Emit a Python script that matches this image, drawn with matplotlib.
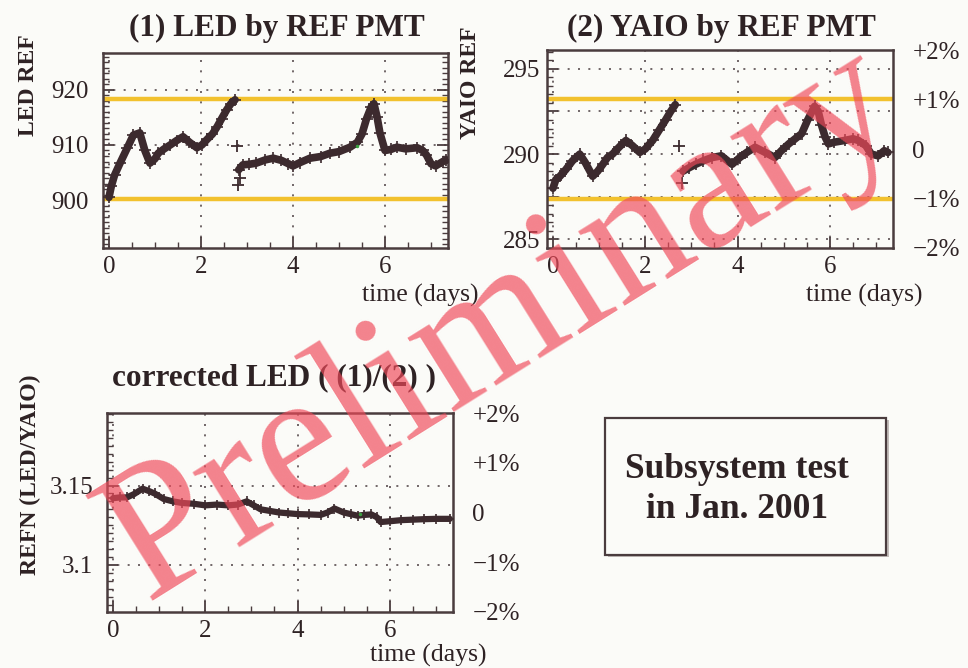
import matplotlib.pyplot as plt
from matplotlib.patches import Rectangle
from matplotlib.ticker import MultipleLocator, FuncFormatter

plt.rcParams['font.family'] = ['Liberation Serif', 'DejaVu Serif']

INK = '#3c2a2e'
FRAME = '#4a3c3e'
TXT = '#2e2224'
GOLD = '#f2c12e'
GRID = '#5a4e50'
BG = '#fbfbf8'
W, H = 968, 668

# (1) LED seen by the reference PMT, two runs split by a short gap
led_t_a = [0.0, 0.05, 0.12, 0.24, 0.4, 0.53, 0.67, 0.78, 0.89, 1.0, 1.07, 1.2,
           1.33, 1.47, 1.61, 1.75, 1.91, 2.02, 2.13, 2.25, 2.35, 2.45, 2.56,
           2.65, 2.74]
led_v_a = [900.5, 902.5, 904.5, 906.7, 909.5, 911.8, 912.2, 909.0, 906.7, 907.5,
           908.5, 909.3, 910.0, 910.8, 911.5, 910.5, 909.5, 910.0, 911.0, 912.0,
           913.3, 914.8, 916.4, 917.5, 918.2]
led_t_b = [2.82, 2.91, 3.05, 3.2, 3.4, 3.57, 3.75, 3.9, 4.0, 4.15, 4.37, 4.6,
           4.8, 5.0, 5.24, 5.4, 5.5, 5.6, 5.7, 5.76, 5.83, 5.89, 6.0, 6.13, 6.26,
           6.45, 6.7, 6.82, 6.9, 7.0, 7.1, 7.26, 7.33]
led_v_b = [905.5, 906.4, 906.5, 906.7, 907.3, 907.6, 907.2, 906.6, 906.2, 906.8,
           907.6, 907.9, 908.5, 908.8, 909.6, 910.5, 912.0, 914.8, 916.9, 917.5,
           915.0, 912.2, 909.0, 909.2, 909.6, 909.3, 909.5, 909.0, 908.2, 906.6,
           906.2, 907.0, 907.2]
led_out_t = [2.78, 2.8, 2.84]
led_out_v = [909.8, 902.8, 904.0]
led_mean = 909.2

# (2) YAIO seen by the reference PMT
yaio_t_a = [0.0, 0.06, 0.15, 0.28, 0.42, 0.58, 0.7, 0.86, 0.97, 1.08, 1.18,
            1.29, 1.43, 1.58, 1.72, 1.88, 2.0, 2.16, 2.3, 2.44, 2.55, 2.65]
yaio_v_a = [288.0, 288.5, 288.7, 289.1, 289.6, 290.0, 289.5, 288.7, 289.0, 289.4,
            289.8, 290.0, 290.4, 290.8, 290.5, 290.1, 290.3, 290.8, 291.4, 292.0,
            292.5, 292.9]
yaio_t_b = [2.82, 2.95, 3.09, 3.25, 3.45, 3.65, 3.88, 4.05, 4.2, 4.38, 4.6,
            4.81, 4.95, 5.11, 5.25, 5.39, 5.52, 5.67, 5.75, 5.82, 5.9, 5.97, 6.1,
            6.32, 6.5, 6.62, 6.78, 6.9, 7.05, 7.18, 7.26]
yaio_v_b = [289.0, 289.2, 289.4, 289.6, 289.8, 289.9, 289.4, 289.8, 290.1, 290.4,
            290.1, 289.8, 290.2, 290.6, 290.9, 291.2, 292.0, 292.8, 292.5, 291.7,
            291.0, 290.6, 290.7, 290.8, 290.9, 290.8, 290.5, 290.0, 289.9, 290.2,
            290.1]
yaio_out_t = [2.74, 2.8]
yaio_out_v = [290.5, 288.3]
yaio_mean = 290.3

# corrected LED = (1)/(2)
refn_t = [0.0, 0.15, 0.3, 0.45, 0.64, 0.78, 0.9, 1.1, 1.3, 1.5, 1.75, 2.0, 2.25,
          2.5, 2.7, 2.9, 3.05, 3.2, 3.4, 3.6, 3.8, 4.0, 4.25, 4.5, 4.65, 4.8,
          5.0, 5.15, 5.3, 5.45, 5.6, 5.72, 5.8, 6.0, 6.25, 6.5, 6.75, 7.0, 7.3]
refn_v = [3.1420, 3.1425, 3.1425, 3.1445, 3.1480, 3.1465, 3.1450, 3.1415,
          3.1400, 3.1390, 3.1385, 3.1375, 3.1380, 3.1375, 3.1380, 3.1400,
          3.1375, 3.1350, 3.1340, 3.1330, 3.1325, 3.1320, 3.1318, 3.1315,
          3.1330, 3.1355, 3.1330, 3.1320, 3.1310, 3.1315, 3.1318, 3.1300,
          3.1270, 3.1275, 3.1282, 3.1285, 3.1288, 3.1290, 3.1290]
refn_mean = 3.133

x_ticks = [0, 2, 4, 6]
pct_ticks = [-2, -1, 0, 1, 2]
pct_labels = ['\u22122%', '\u22121%', '0', '+1%', '+2%']

fig = plt.figure(figsize=(W / 100, H / 100), dpi=100, facecolor=BG)


def px_axes(left, top, right, bottom):
    return fig.add_axes([left / W, 1 - bottom / H, (right - left) / W, (bottom - top) / H])


def style(ax, ylim, ymaj, ymin, ypad):
    ax.set_facecolor(BG)
    ax.set_xlim(-0.13, 7.37)
    ax.set_ylim(*ylim)
    ax.set_xticks(x_ticks)
    ax.xaxis.set_minor_locator(MultipleLocator(0.5))
    ax.yaxis.set_major_locator(MultipleLocator(ymaj))
    ax.yaxis.set_minor_locator(MultipleLocator(ymin))
    ax.yaxis.set_major_formatter(FuncFormatter(lambda v, p: '%g' % round(v, 3)))
    ax.tick_params(which='both', direction='in', right=True, top=False,
                   color=FRAME, labelcolor=TXT, labelsize=18)
    ax.tick_params(which='major', length=8, width=1.3)
    ax.tick_params(which='minor', length=4, width=1.0)
    ax.tick_params(axis='x', pad=6)
    ax.tick_params(axis='y', pad=ypad)
    for s in ax.spines.values():
        s.set_color(FRAME)
        s.set_linewidth(1.8)
    ax.grid(True, which='major', color=GRID, ls=(0, (1.2, 5)), lw=1.2)
    ax.set_axisbelow(True)


def draw_series(ax, segments, lw):
    for t, v in segments:
        ax.plot(t, v, color=INK, lw=lw, solid_capstyle='round',
                solid_joinstyle='round', zorder=3)
        ax.plot(t, v, ls='none', marker='+', ms=lw + 3, mew=1.2, color=INK, zorder=3)


def percent_axis(ax):
    ax2 = ax.twinx()
    ax2.set_ylim(-2, 2)
    ax2.set_yticks(pct_ticks)
    ax2.set_yticklabels(pct_labels)
    ax2.tick_params(length=0, pad=14, labelsize=18, labelcolor=TXT)
    for s in ax2.spines.values():
        s.set_visible(False)


# panel (1)
ax1 = px_axes(103, 53, 448, 248)
style(ax1, (891.3, 926.7), 10, 1, 10)
for k in (-1, 1):
    ax1.axhline(led_mean * (1 + 0.01 * k), color=GOLD, lw=3.2, zorder=2)
draw_series(ax1, [(led_t_a, led_v_a), (led_t_b, led_v_b)], 5.5)
ax1.plot(led_out_t, led_out_v, ls='none', marker='+', ms=8, mew=1.3, color=INK)
ax1.plot([5.4], [909.8], ls='none', marker='.', ms=3, color='#3aa040', zorder=4)

# panel (2)
ax2 = px_axes(547, 50, 893, 248)
style(ax2, (yaio_mean * 0.98, yaio_mean * 1.02), 2.5, 0.5, 5)
ax2.yaxis.set_major_formatter(FuncFormatter(lambda v, p: '%d' % round(v) if abs(v / 5 - round(v / 5)) < 1e-6 else ''))
for k in (-1, 1):
    ax2.axhline(yaio_mean * (1 + 0.01 * k), color=GOLD, lw=3.2, zorder=2)
draw_series(ax2, [(yaio_t_a, yaio_v_a), (yaio_t_b, yaio_v_b)], 5.5)
ax2.plot(yaio_out_t, yaio_out_v, ls='none', marker='+', ms=8, mew=1.3, color=INK)
percent_axis(ax2)

# corrected panel
ax3 = px_axes(107, 413, 453, 612)
style(ax3, (refn_mean * 0.98, refn_mean * 1.02), 0.05, 0.005, 10)
draw_series(ax3, [(refn_t, refn_v)], 4.5)
ax3.plot([5.35], [3.1322], ls='none', marker='.', ms=3, color='#3aa040', zorder=4)
percent_axis(ax3)

# titles and axis labels
title_kw = dict(fontsize=22.5, fontweight='bold', color=TXT, ha='center', va='center')
fig.text(277 / W, 1 - 28 / H, '(1) LED by REF PMT', **title_kw)
fig.text(721 / W, 1 - 28 / H, '(2) YAIO by REF PMT', **title_kw)
fig.text(274 / W, 1 - 378 / H, 'corrected LED ( (1)/(2) )', **title_kw)

ylab_kw = dict(fontsize=17, fontweight='bold', color=TXT, rotation=90,
               ha='center', va='center')
fig.text(28 / W, 1 - 85 / H, 'LED REF', **ylab_kw)
fig.text(470 / W, 1 - 83 / H, 'YAIO REF', **ylab_kw)
fig.text(30 / W, 1 - 475 / H, 'REFN (LED/YAIO)', **ylab_kw)

xlab_kw = dict(fontsize=18.5, color=TXT, ha='right', va='center')
fig.text(478 / W, 1 - 295 / H, 'time (days)', **xlab_kw)
fig.text(922 / W, 1 - 295 / H, 'time (days)', **xlab_kw)
fig.text(487 / W, 1 - 655 / H, 'time (days)', **xlab_kw)

# info box
fig.add_artist(Rectangle((608 / W, 1 - 557 / H), 281 / W, 137 / H, transform=fig.transFigure,
                         fill=True, fc='#8a7c7c', ec='none', alpha=0.5))
fig.add_artist(Rectangle((605 / W, 1 - 555 / H), 281 / W, 137 / H, transform=fig.transFigure,
                         fill=True, fc=BG, ec=FRAME, lw=1.6))
box_kw = dict(fontsize=25.5, fontweight='bold', color=TXT, ha='center', va='center')
fig.text(737 / W, 1 - 470 / H, 'Subsystem test', **box_kw)
fig.text(737 / W, 1 - 509 / H, 'in Jan. 2001', **box_kw)

# watermark
fig.text(503 / W, 1 - 325 / H, 'Preliminary', fontsize=137, color='#f04a5a', alpha=0.68,
         rotation=32, rotation_mode='anchor', ha='center', va='center', zorder=10)

fig.savefig('out.png', dpi=100, facecolor=BG)
